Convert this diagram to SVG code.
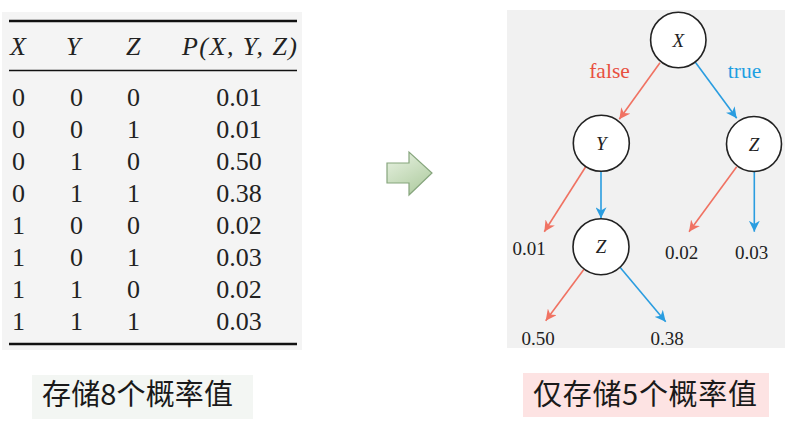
<svg xmlns="http://www.w3.org/2000/svg" width="798" height="427" viewBox="0 0 798 427">
  <style>
    .serif { font-family: "Liberation Serif", "Times New Roman", serif; fill: #222; }
    .cell { font-size: 26px; }
    .hdr { font-size: 26px; font-style: italic; }
    .leaf { font-size: 19px; text-anchor: middle; }
    .nlabel { font-size: 19px; text-anchor: middle; font-style: italic; }
    .node circle { fill: #ffffff; stroke: #222; stroke-width: 1.6; }
    .red { stroke: #f07262; stroke-width: 1.6; fill: none; marker-end: url(#ahRed); }
    .blue { stroke: #2a9de0; stroke-width: 1.6; fill: none; marker-end: url(#ahBlue); }
    .elabel { font-family: "Liberation Serif", "Times New Roman", serif; font-size: 21.5px; text-anchor: middle; }
    .cap { font-family: "Noto Sans CJK SC", "Noto Sans", sans-serif; font-size: 29px; fill: #1a1a1a; }
    .rule { stroke: #111; }
  </style>
  <defs>
    <marker id="ahRed" viewBox="0 0 10 10" refX="10" refY="5" markerWidth="11" markerHeight="11" markerUnits="userSpaceOnUse" orient="auto">
      <path d="M0,0 L10,5 L0,10 L3,5 Z" fill="#f07262"/>
    </marker>
    <marker id="ahBlue" viewBox="0 0 10 10" refX="10" refY="5" markerWidth="11" markerHeight="11" markerUnits="userSpaceOnUse" orient="auto">
      <path d="M0,0 L10,5 L0,10 L3,5 Z" fill="#2a9de0"/>
    </marker>
    <linearGradient id="gArrow" x1="0" y1="0" x2="0.6" y2="1">
      <stop offset="0" stop-color="#eaf3e4"/>
      <stop offset="1" stop-color="#b2cea4"/>
    </linearGradient>
  </defs>

  <rect width="798" height="427" fill="#ffffff"/>

  <!-- Table -->
  <g id="table">
    <rect x="2" y="12" width="300" height="338" fill="#f4f4f4"/>
    <line class="rule" x1="9" y1="21" x2="297" y2="21" stroke-width="2.6"/>
    <line class="rule" x1="9" y1="70.5" x2="297" y2="70.5" stroke-width="1.6"/>
    <line class="rule" x1="9" y1="344" x2="297" y2="344" stroke-width="2.6"/>
    <g class="serif hdr">
      <text x="10" y="55">X</text>
      <text x="66" y="55">Y</text>
      <text x="126" y="55">Z</text>
      <text x="182" y="55" textLength="115" lengthAdjust="spacing">P(X, Y, Z)</text>
    </g>
    <g class="serif cell">
      <text x="12" y="106">0</text><text x="70" y="106">0</text><text x="127" y="106">0</text><text x="239" y="106" text-anchor="middle">0.01</text>
      <text x="12" y="138">0</text><text x="70" y="138">0</text><text x="127" y="138">1</text><text x="239" y="138" text-anchor="middle">0.01</text>
      <text x="12" y="170">0</text><text x="70" y="170">1</text><text x="127" y="170">0</text><text x="239" y="170" text-anchor="middle">0.50</text>
      <text x="12" y="202">0</text><text x="70" y="202">1</text><text x="127" y="202">1</text><text x="239" y="202" text-anchor="middle">0.38</text>
      <text x="12" y="234">1</text><text x="70" y="234">0</text><text x="127" y="234">0</text><text x="239" y="234" text-anchor="middle">0.02</text>
      <text x="12" y="266">1</text><text x="70" y="266">0</text><text x="127" y="266">1</text><text x="239" y="266" text-anchor="middle">0.03</text>
      <text x="12" y="298">1</text><text x="70" y="298">1</text><text x="127" y="298">0</text><text x="239" y="298" text-anchor="middle">0.02</text>
      <text x="12" y="330">1</text><text x="70" y="330">1</text><text x="127" y="330">1</text><text x="239" y="330" text-anchor="middle">0.03</text>
    </g>
  </g>

  <!-- Block arrow -->
  <g id="arrow">
    <path d="M387,163 L409,163 L409,152 L432,173 L409,195 L409,183 L387,183 Z" fill="url(#gArrow)" stroke="#86a57d" stroke-width="1.2"/>
  </g>

  <!-- Tree panel -->
  <rect x="507" y="10" width="278" height="338" fill="#f1f1f1"/>

  <g id="connectors">
    <line class="red" x1="660" y1="62.7" x2="619.3" y2="119.3"/>
    <line class="blue" x1="695" y1="61.7" x2="736.7" y2="118.3"/>
    <line class="red" x1="585.7" y1="166.7" x2="544.3" y2="231.7"/>
    <line class="blue" x1="601" y1="170" x2="601" y2="218.3"/>
    <line class="red" x1="736.7" y1="166.7" x2="689" y2="231.7"/>
    <line class="blue" x1="754.3" y1="171" x2="754.3" y2="231.7"/>
    <line class="red" x1="584" y1="269.3" x2="545.7" y2="320.7"/>
    <line class="blue" x1="620" y1="267.3" x2="665.7" y2="321.7"/>
    <text class="elabel" x="609.5" y="78" fill="#e8503f">false</text>
    <text class="elabel" x="744.5" y="78" fill="#1d9fe2">true</text>
  </g>

  <g id="nodeX" class="node">
    <circle cx="678.3" cy="40" r="27.7"/>
    <text class="serif nlabel" x="678.3" y="46.5">X</text>
  </g>
  <g id="nodeY" class="node">
    <circle cx="601.3" cy="143.3" r="28"/>
    <text class="serif nlabel" x="601.3" y="149.8">Y</text>
  </g>
  <g id="nodeZ1" class="node">
    <circle cx="754" cy="144" r="27.5"/>
    <text class="serif nlabel" x="754" y="150.5">Z</text>
  </g>
  <g id="nodeZ2" class="node">
    <circle cx="601" cy="246.7" r="28"/>
    <text class="serif nlabel" x="601" y="253.2" font-style="normal">Z</text>
  </g>

  <g id="leaves" class="serif leaf">
    <text x="529" y="255">0.01</text>
    <text x="681.5" y="259">0.02</text>
    <text x="751.5" y="259">0.03</text>
    <text x="538" y="345">0.50</text>
    <text x="667" y="345">0.38</text>
  </g>

  <!-- Captions -->
  <g id="captionLeft">
    <rect x="32" y="375" width="221" height="44" fill="#f3f6f3"/>
    <text class="cap" x="42" y="405" textLength="191" lengthAdjust="spacing">存储8个概率值</text>
  </g>
  <g id="captionRight">
    <rect x="523" y="373" width="246" height="44" fill="#fde3e3"/>
    <text class="cap" x="533" y="405" textLength="224" lengthAdjust="spacing">仅存储5个概率值</text>
  </g>
</svg>
